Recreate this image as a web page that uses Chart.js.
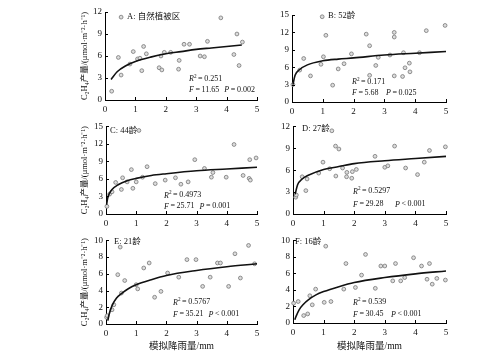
<!DOCTYPE html>
<html><head><meta charset="utf-8">
<script src="https://cdn.jsdelivr.net/npm/chart.js@4.4.1/dist/chart.umd.min.js"></script>
<style>
html,body{margin:0;padding:0;background:#fff;width:500px;height:355px;overflow:hidden;position:relative}
canvas{position:absolute}
</style></head><body>
<script>
// ---------- DATA ----------
const panelLabels = ['A: 自然植被区','B: 52龄','C: 44龄','D: 27龄','E: 21龄','F: 16龄'];
const r2Values = ['0.251','0.171','0.4973','0.5297','0.5767','0.539'];
const fValues = ['11.65','5.68','25.71','29.28','35.21','30.45'];
const pSigns = ['=','=','=','<','<','<'];
const pValues = ['0.002','0.025','0.001','0.001','0.001','0.001'];
const xTicks = [0,1,2,3,4,5];
const yMaxes = [12,15,15,12,10,10];
const ySteps = [3,3,3,3,2,2];

const aX = [0.22,0.44,0.53,0.82,0.93,1.07,1.15,1.21,1.27,1.36,1.78,1.84,1.87,1.95,2.16,2.42,2.44,2.6,2.78,3.13,3.27,3.37,3.81,4.24,4.34,4.41,4.52,0.53];
const aY = [1.2,5.8,3.4,4.9,6.6,5.6,5.7,4.0,7.3,6.3,4.4,6.0,4.1,6.5,6.5,4.2,5.4,7.6,7.6,6.0,5.9,8.0,11.2,6.2,9.0,4.7,7.9,11.3];
const aCurveX = [0.2,0.4,0.7,1,1.5,2,2.5,3,3.5,4,4.5];
const aCurveY = [2.8,3.85,4.7,5.25,5.85,6.3,6.6,6.9,7.1,7.3,7.5];

const bX = [0.03,0.25,0.38,0.6,0.94,1.02,1.1,1.32,1.5,1.69,1.93,2.41,2.52,2.52,2.72,2.8,3.18,3.32,3.32,3.32,3.59,3.62,3.67,3.81,3.83,4.14,4.36,4.97,0.98];
const bY = [3.0,5.5,7.5,4.5,6.5,7.8,11.5,2.9,5.7,6.6,8.3,11.7,9.7,4.6,6.3,7.7,8.1,12.0,11.2,4.5,4.4,8.5,5.9,6.7,5.2,8.5,12.3,13.2,14.7];
const bCurveX = [0.03,0.1,0.25,0.5,1,1.5,2,3,4,5];
const bCurveY = [3.0,4.6,5.6,6.4,7.1,7.4,7.6,8.1,8.4,8.7];

const cX = [0.03,0.12,0.2,0.32,0.51,0.55,0.7,0.84,0.89,1.0,1.21,1.36,1.63,1.96,2.3,2.48,2.72,2.94,3.26,3.49,3.54,3.98,4.24,4.54,4.74,4.78,4.76,4.97,1.09];
const cY = [1.3,3.4,3.8,5.4,4.2,6.2,5.5,7.6,4.4,5.5,6.3,8.1,5.2,5.8,6.2,5.1,5.5,9.3,7.8,6.3,7.1,6.3,11.9,6.6,6.1,5.8,9.3,9.6,14.3];
const cCurveX = [0.02,0.05,0.1,0.2,0.4,0.7,1,1.5,2,3,4,5];
const cCurveY = [1.6,2.6,3.4,4.2,5.0,5.7,6.1,6.6,6.9,7.4,7.7,8.0];

const dX = [0.09,0.11,0.3,0.42,0.46,0.84,0.98,1.2,1.27,1.39,1.4,1.5,1.62,1.75,1.76,1.92,1.94,2.07,2.68,3.0,3.1,3.32,3.68,4.07,4.29,4.46,4.98];
const dY = [2.3,2.6,5.1,3.2,4.8,5.6,7.1,6.2,11.4,9.3,5.2,8.9,6.3,5.1,5.7,4.9,5.8,6.1,7.9,6.4,6.6,9.3,6.3,5.4,7.1,8.7,9.2];
const dCurveX = [0.07,0.15,0.3,0.5,1,1.5,2,3,4,5];
const dCurveY = [2.7,4.0,4.8,5.3,6.1,6.5,6.9,7.3,7.6,7.9];

const eX = [0.02,0.04,0.2,0.26,0.39,0.47,0.51,0.62,1.0,1.05,1.25,1.43,1.61,1.82,2.04,2.41,2.68,2.98,3.2,3.45,3.69,3.79,4.06,4.27,4.45,4.72,4.92];
const eY = [0.8,1.0,1.7,2.3,5.9,9.2,3.7,5.2,4.7,4.2,6.7,7.3,3.2,3.9,6.1,5.6,7.7,7.7,4.5,5.6,7.3,7.3,4.5,8.4,5.5,9.4,7.2];
const eCurveX = [0.06,0.1,0.2,0.35,0.5,0.75,1,1.5,2,3,4,5];
const eCurveY = [0.4,1.1,2.2,3.1,3.6,4.25,4.7,5.3,5.8,6.4,6.85,7.2];

const fX = [0.02,0.17,0.35,0.48,0.55,0.63,0.74,1.02,1.07,1.24,1.66,1.73,2.04,2.24,2.37,2.69,2.87,3.0,3.26,3.35,3.52,3.65,3.94,4.2,4.38,4.46,4.55,4.7,4.98];
const fY = [2.4,2.6,0.9,1.1,3.3,2.2,4.1,2.5,9.3,2.6,4.1,7.2,4.3,5.8,8.3,4.2,6.9,6.9,5.1,7.2,5.1,5.5,7.9,6.9,5.3,7.2,4.7,5.4,5.2];
const fCurveX = [0.06,0.1,0.2,0.35,0.5,0.75,1,1.5,2,3,4,5];
const fCurveY = [0.4,0.8,1.6,2.3,2.8,3.4,3.8,4.4,4.9,5.5,5.95,6.3];

const yTitle = 'C₂H₄产量/(μmol·m⁻²·h⁻¹)';
const xTitle = '模拟降雨量/mm';

// ---------- LAYOUT ----------
const SERIF = '"Liberation Serif","Noto Sans CJK SC",serif';
const series = [[aX,aY,aCurveX,aCurveY],[bX,bY,bCurveX,bCurveY],[cX,cY,cCurveX,cCurveY],
                [dX,dY,dCurveX,dCurveY],[eX,eY,eCurveX,eCurveY],[fX,fY,fCurveX,fCurveY]];
const layouts = [
 {left:70, top:0,   w:200,h:118,yW:35,pt:12,pr:13,xH:18,yt:true, xt:false, lab:[22,5], st:[84,67,78,116]},
 {left:270,top:0,   w:200,h:120,yW:22,pt:15,pr:24,xH:18,yt:false,xt:false, lab:[36,1], st:[60,67,78,94]},
 {left:70, top:118, w:200,h:114,yW:36,pt:8, pr:13,xH:18,yt:true, xt:false, lab:[4,4],  st:[58,69,80,90]},
 {left:270,top:118, w:200,h:114,yW:23,pt:8, pr:24,xH:18,yt:false,xt:false, lab:[9,2],  st:[60,65,78,102]},
 {left:70, top:232, w:200,h:123,yW:36,pt:7, pr:13,xH:31,yt:true, xt:true,  lab:[8,1],  st:[67,62,74,100]},
 {left:270,top:232, w:200,h:123,yW:23,pt:7, pr:24,xH:32,yt:false,xt:true,  lab:[2,1],  st:[60,62,74,98]},
];
const TS = '\u2009';

function drawSegs(ctx, x, y, segs, size){
  let cx = x;
  for(const s of segs){
    const sz = s.sup ? size*0.65 : size;
    ctx.font = (s.i?'italic ':'') + sz + 'px ' + SERIF;
    ctx.fillText(s.t, cx, s.sup ? y - size*0.35 : y);
    cx += ctx.measureText(s.t).width;
  }
  return cx;
}

const extras = {
  id:'extras',
  afterDraw(chart){
    const i = chart.options.plugins.extras.idx;
    const L = layouts[i];
    const ctx = chart.ctx, a = chart.chartArea;
    const xs = chart.scales.x, ys = chart.scales.y;
    ctx.save();
    ctx.strokeStyle = '#000'; ctx.lineWidth = 1;
    ctx.beginPath();
    for(const t of xs.ticks){ const px = Math.round(xs.getPixelForValue(t.value))+0.5; ctx.moveTo(px,a.bottom); ctx.lineTo(px,a.bottom-3); }
    for(const t of ys.ticks){ const py = Math.round(ys.getPixelForValue(t.value))+0.5; ctx.moveTo(a.left,py); ctx.lineTo(a.left+3,py); }
    ctx.stroke();
    ctx.fillStyle = '#111';
    ctx.textBaseline = 'middle'; ctx.textAlign = 'left';
    ctx.font = '8.5px ' + SERIF;
    ctx.fillText(panelLabels[i], a.left + L.lab[0], a.top + L.lab[1]);
    const s = L.st, fs = 8;
    drawSegs(ctx, a.left+s[0], a.top+s[1], [{t:'R',i:true},{t:'2',sup:true},{t:TS+'='+TS+r2Values[i]}], fs);
    const fEnd = drawSegs(ctx, a.left+s[0], a.top+s[2], [{t:'F',i:true},{t:TS+'='+TS+fValues[i]}], fs);
    drawSegs(ctx, Math.max(a.left+s[3], fEnd+5), a.top+s[2], [{t:'P',i:true},{t:TS+pSigns[i]+TS+pValues[i]}], fs);
    ctx.restore();
  }
};

layouts.forEach((L,i)=>{
  const cv = document.createElement('canvas');
  cv.width = L.w; cv.height = L.h;
  cv.style.left = L.left+'px'; cv.style.top = L.top+'px';
  cv.style.width = L.w+'px'; cv.style.height = L.h+'px';
  document.body.appendChild(cv);
  const [px,py,cx,cy] = series[i];
  new Chart(cv.getContext('2d'), {
    type:'scatter',
    data:{datasets:[
      {data: px.map((v,k)=>({x:v,y:py[k]})), pointRadius:1.9, pointBorderWidth:0.8,
       pointBackgroundColor:'#dcdcdc', pointBorderColor:'#777', showLine:false, clip:false, order:2},
      {data: cx.map((v,k)=>({x:v,y:cy[k]})), showLine:true, pointRadius:0, borderColor:'#111',
       borderWidth:1.6, cubicInterpolationMode:'monotone', clip:false, order:1}
    ]},
    options:{
      responsive:false, animation:false, devicePixelRatio:1,
      layout:{padding:{left:0,top:L.pt,right:L.pr,bottom:0}},
      plugins:{legend:{display:false}, tooltip:{enabled:false}, extras:{idx:i}},
      scales:{
        x:{type:'linear', min:0, max:5,
           afterBuildTicks(sc){ sc.ticks = xTicks.map(v=>({value:v})); },
           afterFit(sc){ sc.height = L.xH; },
           grid:{display:false, drawTicks:false},
           border:{display:true,color:'#000',width:1},
           ticks:{padding:4, color:'#111', font:{family:SERIF,size:9}},
           title:{display:L.xt, text:xTitle, color:'#111', font:{family:SERIF,size:9.5}, padding:{top:0,bottom:3}}
        },
        y:{type:'linear', min:0, max:yMaxes[i],
           ticks:{stepSize:ySteps[i], padding:3, color:'#111', font:{family:SERIF,size:9}},
           afterFit(sc){ sc.width = L.yW; },
           grid:{display:false, drawTicks:false},
           border:{display:true,color:'#000',width:1},
           title:{display:L.yt, text:yTitle, color:'#111', font:{family:SERIF,size:8.5}, padding:{top:10,bottom:0}}
        }
      }
    },
    plugins:[extras]
  });
});
</script>
</body></html>
